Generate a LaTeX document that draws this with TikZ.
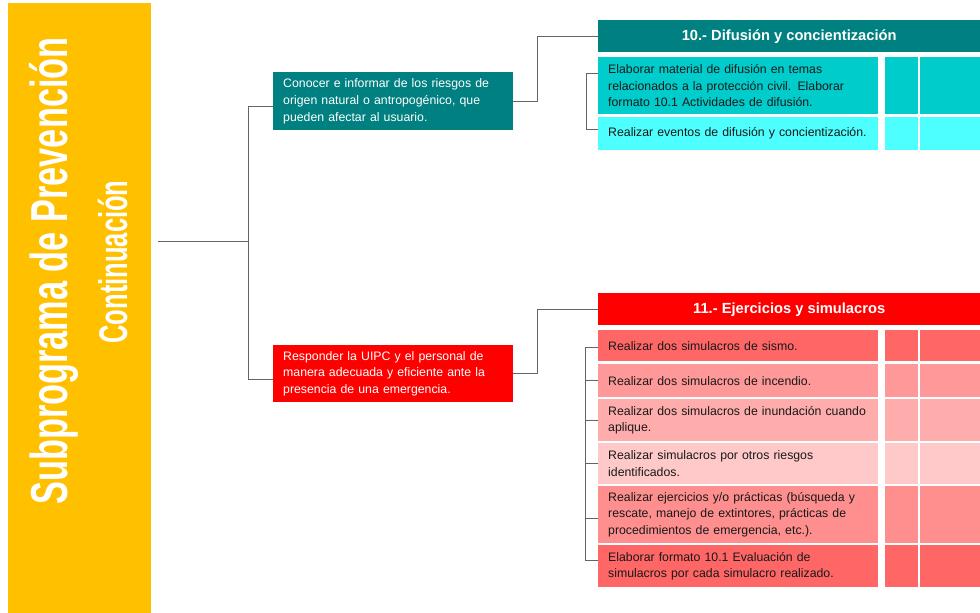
\documentclass[tikz,border=0pt]{standalone}
\usepackage{fontspec}
\setmainfont{Liberation Sans}
\usepackage{graphicx}
\definecolor{gold}{RGB}{255,192,0}
\definecolor{tealD}{RGB}{0,128,128}
\definecolor{cyanA}{RGB}{0,204,204}
\definecolor{cyanB}{RGB}{77,255,255}
\definecolor{redH}{RGB}{255,0,0}
\definecolor{redA}{RGB}{255,102,102}
\definecolor{redB}{RGB}{255,153,153}
\definecolor{redC}{RGB}{255,172,172}
\definecolor{redD}{RGB}{255,201,201}
\definecolor{redE}{RGB}{255,143,143}
\definecolor{linegray}{RGB}{100,100,100}
\begin{document}
\begin{tikzpicture}[x=1pt,y=-1pt,
  conn/.style={draw=linegray,line width=1pt},
  goal/.style={anchor=north west,minimum width=240pt,inner xsep=10pt,inner ysep=0pt,text width=220pt,align=left,text=white,font=\fontsize{12.3}{16.8}\selectfont},
  head/.style={anchor=north west,minimum width=382pt,minimum height=32pt,inner sep=0pt,text=white,font=\bfseries\fontsize{14.7}{17}\selectfont},
  actrow/.style={anchor=north west,minimum width=280pt,inner xsep=10pt,inner ysep=0pt,text width=260pt,align=left,text=black!90,font=\fontsize{12.3}{16.8}\selectfont},
  cellA/.style={anchor=north west,minimum width=33pt,inner sep=0pt},
  cellB/.style={anchor=north west,minimum width=60pt,inner sep=0pt}
]
\useasboundingbox (0,0) rectangle (980,613);
% yellow bar
\node[anchor=north west,fill=gold,minimum width=143pt,minimum height=610pt,inner sep=0pt] (bar) at (8,3) {};
\node[rotate=90,anchor=base,text=white,font=\bfseries\fontsize{52}{54}\selectfont,inner sep=0pt] (title) at (67,271) {\scalebox{0.66}[1]{Subprograma de Prevención}};
\node[rotate=90,anchor=base,text=white,font=\bfseries\fontsize{40}{42}\selectfont,inner sep=0pt] (subtitle) at (127,262) {\scalebox{0.638}[1]{Continuación}};

% goals
\node[goal,fill=tealD,minimum height=58pt] (conocer) at (273,72) {Conocer e informar de los riesgos de\\origen natural o antropogénico, que\\pueden afectar al usuario.};
\node[goal,fill=redH,minimum height=57pt] (responder) at (273,345) {Responder la UIPC y el personal de\\manera adecuada y eficiente ante la\\presencia de una emergencia.};

% headers
\node[head,fill=tealD] (h10) at (598,20) {10.- Difusión y concientización};
\node[head,fill=redH] (h11) at (598,293) {11.- Ejercicios y simulacros};

% cyan rows
\node[actrow,fill=cyanA,minimum height=57pt] (r1) at (598,57) {Elaborar material de difusión en temas\\relacionados a la protección civil. Elaborar\\formato 10.1 Actividades de difusión.};
\node[actrow,fill=cyanB,minimum height=33pt] (r2) at (598,117) {Realizar eventos de difusión y concientización.};
\node[cellA,fill=cyanA,minimum height=57pt] (r1s) at (885,57) {};
\node[cellB,fill=cyanA,minimum height=57pt] (r1t) at (920,57) {};
\node[cellA,fill=cyanB,minimum height=33pt] (r2s) at (885,117) {};
\node[cellB,fill=cyanB,minimum height=33pt] (r2t) at (920,117) {};

% red rows
\node[actrow,fill=redA,minimum height=31pt] (ra) at (598,330) {Realizar dos simulacros de sismo.};
\node[actrow,fill=redB,minimum height=33pt] (rb) at (598,364) {Realizar dos simulacros de incendio.};
\node[actrow,fill=redC,minimum height=42pt] (rc) at (598,399) {Realizar dos simulacros de inundación cuando\\aplique.};
\node[actrow,fill=redD,minimum height=41pt] (rd) at (598,443) {Realizar simulacros por otros riesgos\\identificados.};
\node[actrow,fill=redE,minimum height=57pt] (re) at (598,486) {Realizar ejercicios y/o prácticas (búsqueda y\\rescate, manejo de extintores, prácticas de\\procedimientos de emergencia, etc.).};
\node[actrow,fill=redA,minimum height=42pt] (rf) at (598,545) {Elaborar formato 10.1 Evaluación de\\simulacros por cada simulacro realizado.};
\node[cellA,fill=redA,minimum height=31pt] (ras) at (885,330) {};
\node[cellB,fill=redA,minimum height=31pt] (rat) at (920,330) {};
\node[cellA,fill=redB,minimum height=33pt] (rbs) at (885,364) {};
\node[cellB,fill=redB,minimum height=33pt] (rbt) at (920,364) {};
\node[cellA,fill=redC,minimum height=42pt] (rcs) at (885,399) {};
\node[cellB,fill=redC,minimum height=42pt] (rct) at (920,399) {};
\node[cellA,fill=redD,minimum height=41pt] (rds) at (885,443) {};
\node[cellB,fill=redD,minimum height=41pt] (rdt) at (920,443) {};
\node[cellA,fill=redE,minimum height=57pt] (res) at (885,486) {};
\node[cellB,fill=redE,minimum height=57pt] (ret) at (920,486) {};
\node[cellA,fill=redA,minimum height=42pt] (rfs) at (885,545) {};
\node[cellB,fill=redA,minimum height=42pt] (rft) at (920,545) {};

% connectors
\coordinate (root) at (158,241);
\coordinate (j1) at (248,241);
\draw[conn] (root) -- (j1);
\draw[conn] (j1) |- ([yshift=-5pt]conocer.west);
\draw[conn] (j1) |- ([yshift=-6pt]responder.west);
\draw[conn] (conocer.east) -- ++(24,0) |- (h10.west);
\draw[conn] (responder.east) -- ++(24,0) |- (h11.west);
% cyan bracket
\draw[conn] ([yshift=12pt]r1.west) -- ++(-12,0) |- ([yshift=4pt]r2.west);
% red bracket
\draw[conn] ([yshift=-1.5pt]ra.west) -- ++(-13,0) coordinate (rtop) |- ([yshift=6pt]rf.west);
\draw[conn] (rb.west) -- (rb.west -| rtop);
\draw[conn] (rc.west) -- (rc.west -| rtop);
\draw[conn] (rd.west) -- (rd.west -| rtop);
\draw[conn] ([yshift=-3.5pt]re.west) -- ([yshift=-3.5pt]re.west -| rtop);
\end{tikzpicture}
\end{document}
